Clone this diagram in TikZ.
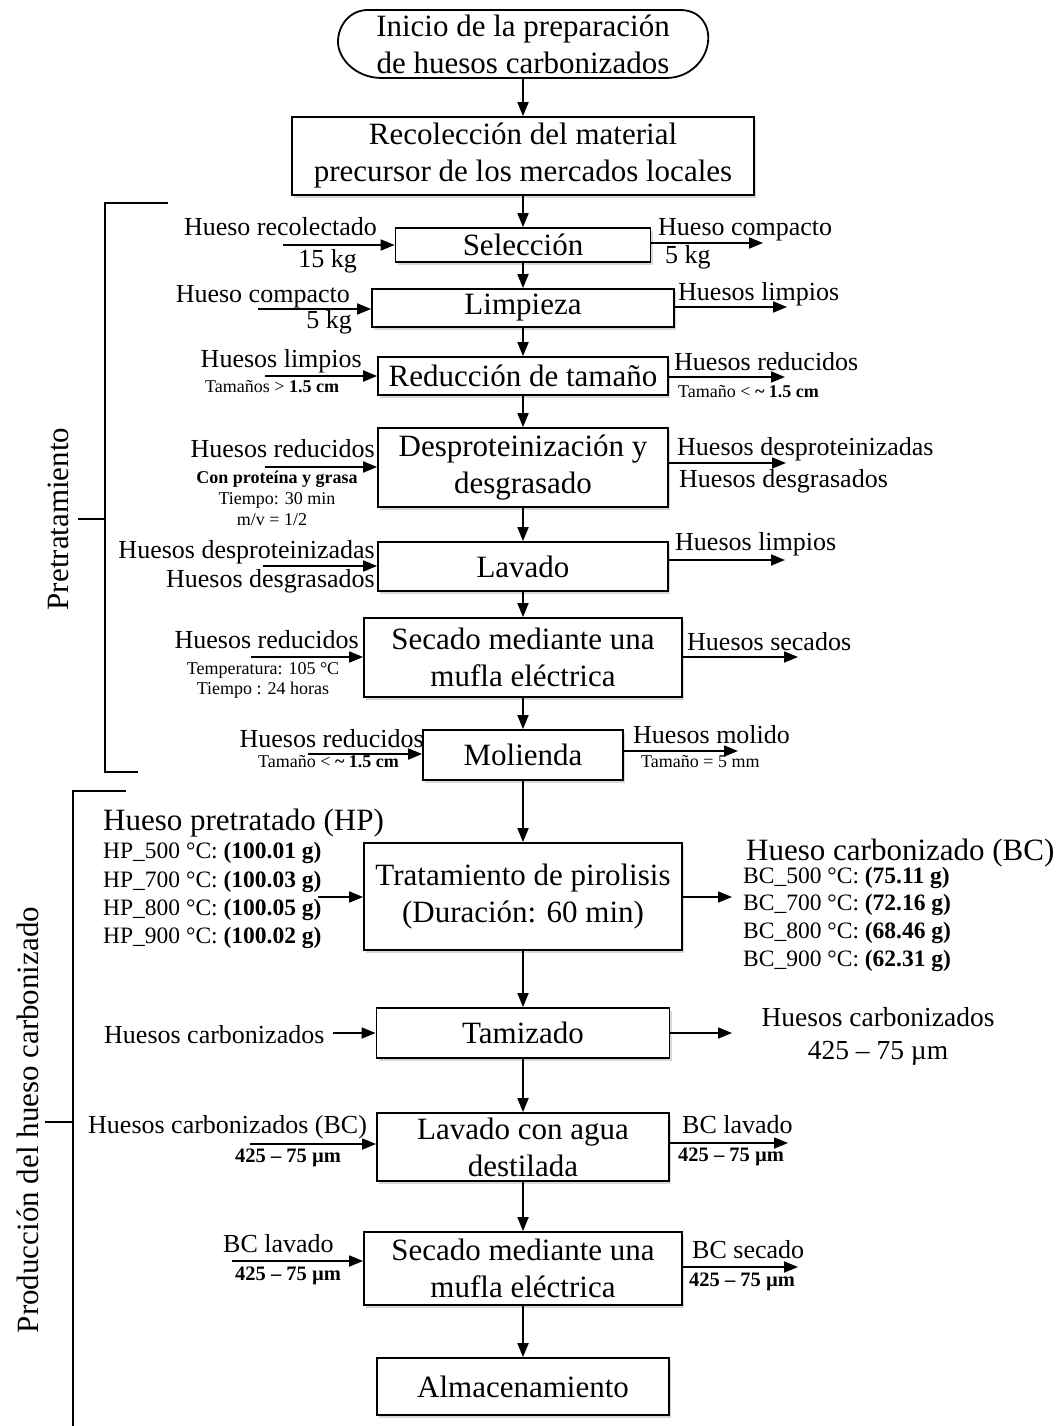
\documentclass[tikz,border=0pt]{standalone}
\usepackage{fontspec}
\setmainfont{Liberation Serif}
\usetikzlibrary{arrows.meta,shadows}
\newcommand\FBig{\fontsize{31}{37}\selectfont}
\newcommand\FMid{\fontsize{26}{31}\selectfont}
\newcommand\FTz{\fontsize{27.5}{33}\selectfont}
\newcommand\FHp{\fontsize{23.5}{28}\selectfont}
\newcommand\FSm{\fontsize{18}{21}\selectfont}
\newcommand\FBc{\fontsize{20.5}{24}\selectfont\bfseries}
\begin{document}
\begin{tikzpicture}[x=1pt,y=-1pt,
  procbox/.style={draw, line width=1.8pt, fill=white, inner sep=0pt, align=center, font=\FBig,
    drop shadow={shadow xshift=2pt, shadow yshift=-3pt, fill=black!30, opacity=0.5}},
  arr/.style={line width=1.8pt, -{Triangle[length=14pt,width=11pt]}},
  brk/.style={line width=1.6pt},
  lbl/.style={inner sep=0pt, font=\FMid},
  sml/.style={inner sep=0pt, font=\FSm},
  bcs/.style={inner sep=0pt, font=\FBc},
  hpl/.style={inner sep=0pt, font=\FHp},
  bigl/.style={inner sep=0pt, font=\FBig}]
\useasboundingbox (0,0) rectangle (1061,1426);

% start terminator
\draw[line width=1.8pt] (368,10) -- (680,10) .. controls (700,10) and (710,25) .. (708,42)
  .. controls (706,60) and (690,78) .. (666,78) -- (382,78)
  .. controls (355,78) and (338,58) .. (338,42) .. controls (338,25) and (350,10) .. (368,10);
\node[inner sep=0pt, minimum width=368pt, minimum height=68pt, align=center, font=\FBig] (start) at (523,44)
  {Inicio de la preparación\\de huesos carbonizados};

% process boxes
\node[procbox, minimum width=462pt, minimum height=78pt] (rec) at (523,156) {Recolección del material\\precursor de los mercados locales};
\node[procbox, minimum width=255pt, minimum height=34pt] (sel) at (523,245) {Selección};
\node[procbox, minimum width=302pt, minimum height=38pt] (lim) at (523,308) {Limpieza};
\node[procbox, minimum width=290pt, minimum height=38pt] (red) at (523,376) {Reducción de tamaño};
\node[procbox, minimum width=290pt, minimum height=79pt] (des) at (523,467.5) {Desproteinización y\\desgrasado};
\node[procbox, minimum width=290pt, minimum height=49pt] (lav) at (523,566.5) {Lavado};
\node[procbox, minimum width=318pt, minimum height=79pt] (sec) at (523,657.5) {Secado mediante una\\mufla eléctrica};
\node[procbox, minimum width=200pt, minimum height=50pt] (mol) at (523,755) {Molienda};
\node[procbox, minimum width=318pt, minimum height=107pt] (pir) at (523,896.5) {Tratamiento de pirolisis\\(Duración: 60 min)};
\node[procbox, minimum width=293pt, minimum height=50pt] (tam) at (523,1033) {Tamizado};
\node[procbox, minimum width=292pt, minimum height=68pt] (lca) at (523,1147) {Lavado con agua\\destilada};
\node[procbox, minimum width=318pt, minimum height=73pt] (sec2) at (523,1268.5) {Secado mediante una\\mufla eléctrica};
\node[procbox, minimum width=292pt, minimum height=57pt] (alm) at (523,1386.5) {Almacenamiento};

% main flow
\draw[arr] (start.south) -- (rec.north);
\draw[arr] (rec.south) -- (sel.north);
\draw[arr] (sel.south) -- (lim.north);
\draw[arr] (lim.south) -- (red.north);
\draw[arr] (red.south) -- (des.north);
\draw[arr] (des.south) -- (lav.north);
\draw[arr] (lav.south) -- (sec.north);
\draw[arr] (sec.south) -- (mol.north);
\draw[arr] (mol.south) -- (pir.north);
\draw[arr] (pir.south) -- (tam.north);
\draw[arr] (tam.south) -- (lca.north);
\draw[arr] (lca.south) -- (sec2.north);
\draw[arr] (sec2.south) -- (alm.north);

% Selección
\node[lbl, anchor=base east] (l1a) at (377,235) {Hueso recolectado};
\node[lbl, anchor=base east] (l1b) at (357,267) {15 kg};
\coordinate (i1) at (283,245);
\draw[arr] (i1) -- (i1 -| sel.west);
\node[lbl, anchor=base west] (r1a) at (658,235) {Hueso compacto};
\node[lbl, anchor=base west] (r1b) at (665,263) {5 kg};
\coordinate (o1) at (763,243);
\draw[arr] (o1 -| sel.east) -- (o1);

% Limpieza
\node[lbl, anchor=base east] (l2a) at (350,302) {Hueso compacto};
\node[lbl, anchor=base east] (l2b) at (352,328) {5 kg};
\coordinate (i2) at (258,309);
\draw[arr] (i2) -- (i2 -| lim.west);
\node[lbl, anchor=base west] (r2a) at (678,300) {Huesos limpios};
\coordinate (o2) at (787,307);
\draw[arr] (o2 -| lim.east) -- (o2);

% Reducción
\node[lbl, anchor=base east] (l3a) at (362,367) {Huesos limpios};
\node[sml, anchor=base west] (l3b) at (205,392) {Tamaños > \textbf{1.5 cm}};
\coordinate (i3) at (265,376);
\draw[arr] (i3) -- (i3 -| red.west);
\node[lbl, anchor=base west] (r3a) at (674,370) {Huesos reducidos};
\node[sml, anchor=base west] (r3b) at (678,397) {Tamaño < \textbf{\textasciitilde{} 1.5 cm}};
\coordinate (o3) at (785,377);
\draw[arr] (o3 -| red.east) -- (o3);

% Desproteinización
\node[lbl, anchor=base east] (l4a) at (375,457) {Huesos reducidos};
\node[sml, anchor=base, font=\FSm\bfseries] (l4b) at (277,483) {Con proteína y grasa};
\node[sml, anchor=base] (l4c) at (277,504) {Tiempo: 30 min};
\node[sml, anchor=base] (l4d) at (272,525) {m/v = 1/2};
\coordinate (i4) at (265,467);
\draw[arr] (i4) -- (i4 -| des.west);
\node[lbl, anchor=base west] (r4a) at (677,455) {Huesos desproteinizadas};
\node[lbl, anchor=base west] (r4b) at (679,487) {Huesos desgrasados};
\coordinate (o4) at (786,463);
\draw[arr] (o4 -| des.east) -- (o4);

% Lavado
\node[lbl, anchor=base east] (l5a) at (375,558) {Huesos desproteinizadas};
\node[lbl, anchor=base east] (l5b) at (375,587) {Huesos desgrasados};
\coordinate (i5) at (263,566);
\draw[arr] (i5) -- (i5 -| lav.west);
\node[lbl, anchor=base west] (r5a) at (675,550) {Huesos limpios};
\coordinate (o5) at (785,560);
\draw[arr] (o5 -| lav.east) -- (o5);

% Secado
\node[lbl, anchor=base east] (l6a) at (359,648) {Huesos reducidos};
\node[sml, anchor=base] (l6b) at (263,674) {Temperatura: 105 °C};
\node[sml, anchor=base] (l6c) at (263,694) {Tiempo : 24 horas};
\coordinate (i6) at (251,657);
\draw[arr] (i6) -- (i6 -| sec.west);
\node[lbl, anchor=base west] (r6a) at (687,650) {Huesos secados};
\coordinate (o6) at (798,657);
\draw[arr] (o6 -| sec.east) -- (o6);

% Molienda
\node[lbl, anchor=base east] (l7a) at (424,747) {Huesos reducidos};
\node[sml, anchor=base west] (l7b) at (258,767) {Tamaño < \textbf{\textasciitilde{} 1.5 cm}};
\coordinate (i7) at (308,754);
\draw[arr] (i7) -- (i7 -| mol.west);
\node[lbl, anchor=base west] (r7a) at (633,743) {Huesos molido};
\node[sml, anchor=base west] (r7b) at (641,767) {Tamaño = 5 mm};
\coordinate (o7) at (738,751);
\draw[arr] (o7 -| mol.east) -- (o7);

% Pirolisis
\node[bigl, anchor=base west] (l8h) at (103,830) {Hueso pretratado (HP)};
\node[hpl, anchor=base west] (l8a) at (103,858) {HP\_500 °C: \textbf{(100.01 g)}};
\node[hpl, anchor=base west] (l8b) at (103,887) {HP\_700 °C: \textbf{(100.03 g)}};
\node[hpl, anchor=base west] (l8c) at (103,915) {HP\_800 °C: \textbf{(100.05 g)}};
\node[hpl, anchor=base west] (l8d) at (103,943) {HP\_900 °C: \textbf{(100.02 g)}};
\coordinate (i8) at (318,897);
\draw[arr] (i8) -- (i8 -| pir.west);
\node[bigl, anchor=base west] (r8h) at (746,860) {Hueso carbonizado (BC)};
\node[hpl, anchor=base west] (r8a) at (743,883) {BC\_500 °C: \textbf{(75.11 g)}};
\node[hpl, anchor=base west] (r8b) at (743,910) {BC\_700 °C: \textbf{(72.16 g)}};
\node[hpl, anchor=base west] (r8c) at (743,938) {BC\_800 °C: \textbf{(68.46 g)}};
\node[hpl, anchor=base west] (r8d) at (743,966) {BC\_900 °C: \textbf{(62.31 g)}};
\coordinate (o8) at (732,897);
\draw[arr] (o8 -| pir.east) -- (o8);

% Tamizado
\node[lbl, anchor=base west] (l9a) at (104,1043) {Huesos carbonizados};
\coordinate (i9) at (333,1033);
\draw[arr] (i9) -- (i9 -| tam.west);
\node[inner sep=0pt, font=\FTz, anchor=base] (r9a) at (878,1026) {Huesos carbonizados};
\node[inner sep=0pt, font=\FTz, anchor=base] (r9b) at (878,1059) {425 – 75 µm};
\coordinate (o9) at (732,1033);
\draw[arr] (o9 -| tam.east) -- (o9);

% Lavado con agua
\node[lbl, anchor=base west] (l10a) at (88,1133) {Huesos carbonizados (BC)};
\node[bcs, anchor=base west] (l10b) at (235,1162) {425 – 75 µm};
\coordinate (i10) at (250,1144);
\draw[arr] (i10) -- (i10 -| lca.west);
\node[lbl, anchor=base west] (r10a) at (682,1133) {BC lavado};
\node[bcs, anchor=base west] (r10b) at (678,1161) {425 – 75 µm};
\coordinate (o10) at (788,1143);
\draw[arr] (o10 -| lca.east) -- (o10);

% Secado 2
\node[lbl, anchor=base west] (l11a) at (223,1252) {BC lavado};
\node[bcs, anchor=base west] (l11b) at (235,1280) {425 – 75 µm};
\coordinate (i11) at (232,1261);
\draw[arr] (i11) -- (i11 -| sec2.west);
\node[lbl, anchor=base west] (r11a) at (692,1258) {BC secado};
\node[bcs, anchor=base west] (r11b) at (689,1286) {425 – 75 µm};
\coordinate (o11) at (798,1267);
\draw[arr] (o11 -| sec2.east) -- (o11);

% brackets
\draw[brk] (168,203) -- (105,203) -- (105,772) -- (138,772);
\draw[brk] (78,519) -- (105,519);
\node[bigl, rotate=90] (pret) at (58,519) {Pretratamiento};
\draw[brk] (126,791) -- (73,791) -- (73,1426);
\draw[brk] (45,1122) -- (73,1122);
\node[bigl, rotate=90] (prod) at (28,1120) {Producción del hueso carbonizado};
\end{tikzpicture}
\end{document}
